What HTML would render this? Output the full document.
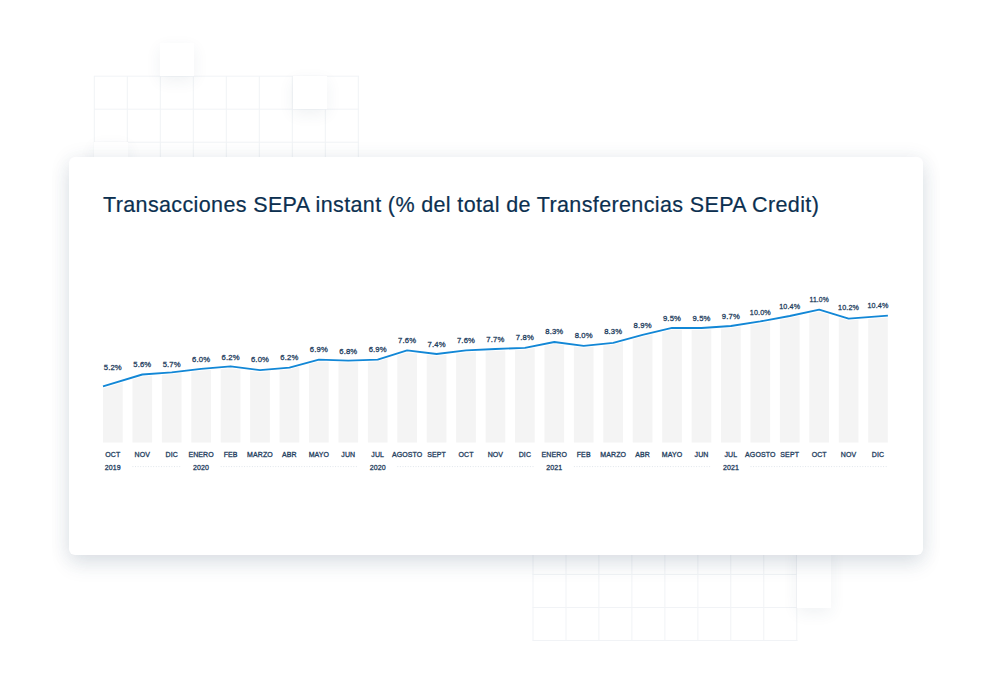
<!DOCTYPE html>
<html><head><meta charset="utf-8">
<style>
html,body{margin:0;padding:0;background:#fff;}
body{width:992px;height:698px;position:relative;overflow:hidden;font-family:"Liberation Sans",sans-serif;}
.grid{position:absolute;}
.sq{position:absolute;width:34px;height:33px;background:#fff;box-shadow:0 5px 16px rgba(40,70,100,0.07);}
.card{position:absolute;left:69px;top:157px;width:854px;height:398px;background:#fff;border-radius:6px;box-shadow:0 10px 20px rgba(35,65,95,0.10),0 2px 20px rgba(35,65,95,0.10);}
.title{position:absolute;left:103px;top:191px;font-size:21.5px;color:#0c3050;-webkit-text-stroke:0.2px #0c3050;white-space:nowrap;line-height:28px;letter-spacing:0.37px;}
svg.chart{position:absolute;left:0;top:0;}
.vl text{font-size:8px;letter-spacing:0.15px;fill:#1f4060;stroke:#1f4060;stroke-width:0.3px;text-anchor:middle;}
.ml text{font-size:7px;letter-spacing:0.1px;fill:#1f4060;stroke:#1f4060;stroke-width:0.3px;text-anchor:middle;}
</style></head><body>
<svg class="grid" style="left:0;top:0" width="992" height="698">
<g stroke="#f1f3f6" stroke-width="1" fill="none">
<line x1="94.3" y1="76" x2="94.3" y2="180"/><line x1="127.3" y1="76" x2="127.3" y2="180"/><line x1="160.3" y1="76" x2="160.3" y2="180"/><line x1="193.3" y1="76" x2="193.3" y2="180"/><line x1="226.3" y1="76" x2="226.3" y2="180"/><line x1="259.3" y1="76" x2="259.3" y2="180"/><line x1="292.3" y1="76" x2="292.3" y2="180"/><line x1="325.3" y1="76" x2="325.3" y2="180"/><line x1="358.3" y1="76" x2="358.3" y2="180"/>
<line x1="94" y1="76.2" x2="359" y2="76.2"/><line x1="94" y1="109.2" x2="359" y2="109.2"/><line x1="94" y1="142.2" x2="359" y2="142.2"/>
<line x1="533.0" y1="540" x2="533.0" y2="640.5"/><line x1="566.0" y1="540" x2="566.0" y2="640.5"/><line x1="598.9" y1="540" x2="598.9" y2="640.5"/><line x1="631.9" y1="540" x2="631.9" y2="640.5"/><line x1="664.9" y1="540" x2="664.9" y2="640.5"/><line x1="697.9" y1="540" x2="697.9" y2="640.5"/><line x1="730.8" y1="540" x2="730.8" y2="640.5"/><line x1="763.8" y1="540" x2="763.8" y2="640.5"/><line x1="796.8" y1="540" x2="796.8" y2="640.5"/>
<line x1="532.5" y1="574.5" x2="797.5" y2="574.5"/><line x1="532.5" y1="607.5" x2="797.5" y2="607.5"/><line x1="532.5" y1="640.5" x2="797.5" y2="640.5"/>
</g></svg>
<div class="sq" style="left:160px;top:43px"></div>
<div class="sq" style="left:292.5px;top:76px"></div>
<div class="sq" style="left:94px;top:142px"></div>
<div class="sq" style="left:797px;top:542px;height:66px"></div>
<div class="card"></div>
<div class="title">Transacciones SEPA instant (% del total de Transferencias SEPA Credit)</div>
<svg class="chart" width="992" height="698" viewBox="0 0 992 698">
<defs><clipPath id="bars"><rect x="103.00" y="290" width="19.7" height="152.7"/><rect x="132.43" y="290" width="19.7" height="152.7"/><rect x="161.86" y="290" width="19.7" height="152.7"/><rect x="191.29" y="290" width="19.7" height="152.7"/><rect x="220.72" y="290" width="19.7" height="152.7"/><rect x="250.15" y="290" width="19.7" height="152.7"/><rect x="279.58" y="290" width="19.7" height="152.7"/><rect x="309.01" y="290" width="19.7" height="152.7"/><rect x="338.44" y="290" width="19.7" height="152.7"/><rect x="367.87" y="290" width="19.7" height="152.7"/><rect x="397.30" y="290" width="19.7" height="152.7"/><rect x="426.73" y="290" width="19.7" height="152.7"/><rect x="456.16" y="290" width="19.7" height="152.7"/><rect x="485.59" y="290" width="19.7" height="152.7"/><rect x="515.02" y="290" width="19.7" height="152.7"/><rect x="544.45" y="290" width="19.7" height="152.7"/><rect x="573.88" y="290" width="19.7" height="152.7"/><rect x="603.31" y="290" width="19.7" height="152.7"/><rect x="632.74" y="290" width="19.7" height="152.7"/><rect x="662.17" y="290" width="19.7" height="152.7"/><rect x="691.60" y="290" width="19.7" height="152.7"/><rect x="721.03" y="290" width="19.7" height="152.7"/><rect x="750.46" y="290" width="19.7" height="152.7"/><rect x="779.89" y="290" width="19.7" height="152.7"/><rect x="809.32" y="290" width="19.7" height="152.7"/><rect x="838.75" y="290" width="19.7" height="152.7"/><rect x="868.18" y="290" width="19.7" height="152.7"/></clipPath></defs>
<polygon points="103.0,388.4 142.3,376.5 171.7,374.3 201.1,370.8 230.6,368.3 260.0,372.2 289.4,369.6 318.9,361.6 348.3,362.6 377.7,361.6 407.1,352.4 436.6,356.0 466.0,352.4 495.4,351.0 524.9,349.8 554.3,344.0 583.7,347.8 613.2,344.8 642.6,336.8 672.0,329.8 701.5,330.0 730.9,328.0 760.3,323.4 789.7,318.0 819.2,311.7 848.6,320.6 887.9,317.6 887.9,442.7 103.0,442.7" fill="#f4f4f4" clip-path="url(#bars)"/>
<polyline points="103.0,386.4 142.3,374.5 171.7,372.3 201.1,368.8 230.6,366.3 260.0,370.2 289.4,367.6 318.9,359.6 348.3,360.6 377.7,359.6 407.1,350.4 436.6,354.0 466.0,350.4 495.4,349.0 524.9,347.8 554.3,342.0 583.7,345.8 613.2,342.8 642.6,334.8 672.0,327.8 701.5,328.0 730.9,326.0 760.3,321.4 789.7,316.0 819.2,309.7 848.6,318.6 887.9,315.6" fill="none" stroke="#1287d6" stroke-width="1.85" stroke-linejoin="round"/>
<g class="vl"><text x="112.8" y="370.4" textLength="18.1" lengthAdjust="spacingAndGlyphs">5.2%</text><text x="142.3" y="367.1" textLength="18.1" lengthAdjust="spacingAndGlyphs">5.6%</text><text x="171.7" y="366.6" textLength="18.1" lengthAdjust="spacingAndGlyphs">5.7%</text><text x="201.1" y="362.2" textLength="18.1" lengthAdjust="spacingAndGlyphs">6.0%</text><text x="230.6" y="359.8" textLength="18.1" lengthAdjust="spacingAndGlyphs">6.2%</text><text x="260.0" y="362.1" textLength="18.1" lengthAdjust="spacingAndGlyphs">6.0%</text><text x="289.4" y="359.7" textLength="18.1" lengthAdjust="spacingAndGlyphs">6.2%</text><text x="318.9" y="351.9" textLength="18.1" lengthAdjust="spacingAndGlyphs">6.9%</text><text x="348.3" y="353.7" textLength="18.1" lengthAdjust="spacingAndGlyphs">6.8%</text><text x="377.7" y="351.9" textLength="18.1" lengthAdjust="spacingAndGlyphs">6.9%</text><text x="407.1" y="343.1" textLength="18.1" lengthAdjust="spacingAndGlyphs">7.6%</text><text x="436.6" y="346.5" textLength="18.1" lengthAdjust="spacingAndGlyphs">7.4%</text><text x="466.0" y="343.1" textLength="18.1" lengthAdjust="spacingAndGlyphs">7.6%</text><text x="495.4" y="342.3" textLength="18.1" lengthAdjust="spacingAndGlyphs">7.7%</text><text x="524.9" y="339.7" textLength="18.1" lengthAdjust="spacingAndGlyphs">7.8%</text><text x="554.3" y="333.7" textLength="18.1" lengthAdjust="spacingAndGlyphs">8.3%</text><text x="583.7" y="337.9" textLength="18.1" lengthAdjust="spacingAndGlyphs">8.0%</text><text x="613.2" y="333.7" textLength="18.1" lengthAdjust="spacingAndGlyphs">8.3%</text><text x="642.6" y="328.3" textLength="18.1" lengthAdjust="spacingAndGlyphs">8.9%</text><text x="672.0" y="320.5" textLength="18.1" lengthAdjust="spacingAndGlyphs">9.5%</text><text x="701.5" y="320.5" textLength="18.1" lengthAdjust="spacingAndGlyphs">9.5%</text><text x="730.9" y="318.5" textLength="18.1" lengthAdjust="spacingAndGlyphs">9.7%</text><text x="760.3" y="314.5" textLength="21.0" lengthAdjust="spacingAndGlyphs">10.0%</text><text x="789.7" y="308.7" textLength="21.0" lengthAdjust="spacingAndGlyphs">10.4%</text><text x="819.2" y="302.0" textLength="19.4" lengthAdjust="spacingAndGlyphs">11.0%</text><text x="848.6" y="309.8" textLength="21.0" lengthAdjust="spacingAndGlyphs">10.2%</text><text x="878.0" y="308.2" textLength="21.0" lengthAdjust="spacingAndGlyphs">10.4%</text></g>
<g class="ml"><text x="112.8" y="457.3">OCT</text><text x="142.3" y="457.3">NOV</text><text x="171.7" y="457.3">DIC</text><text x="201.1" y="457.3">ENERO</text><text x="230.6" y="457.3">FEB</text><text x="260.0" y="457.3">MARZO</text><text x="289.4" y="457.3">ABR</text><text x="318.9" y="457.3">MAYO</text><text x="348.3" y="457.3">JUN</text><text x="377.7" y="457.3">JUL</text><text x="407.1" y="457.3">AGOSTO</text><text x="436.6" y="457.3">SEPT</text><text x="466.0" y="457.3">OCT</text><text x="495.4" y="457.3">NOV</text><text x="524.9" y="457.3">DIC</text><text x="554.3" y="457.3">ENERO</text><text x="583.7" y="457.3">FEB</text><text x="613.2" y="457.3">MARZO</text><text x="642.6" y="457.3">ABR</text><text x="672.0" y="457.3">MAYO</text><text x="701.5" y="457.3">JUN</text><text x="730.9" y="457.3">JUL</text><text x="760.3" y="457.3">AGOSTO</text><text x="789.7" y="457.3">SEPT</text><text x="819.2" y="457.3">OCT</text><text x="848.6" y="457.3">NOV</text><text x="878.0" y="457.3">DIC</text><text x="112.8" y="469.6">2019</text><text x="201.1" y="469.6">2020</text><text x="377.7" y="469.6">2020</text><text x="554.3" y="469.6">2021</text><text x="730.9" y="469.6">2021</text></g>
<g stroke="#e0e5ea" stroke-width="1" stroke-dasharray="1 1.6"><line x1="132.4" y1="466.6" x2="181.6" y2="466.6"/><line x1="220.7" y1="466.6" x2="358.1" y2="466.6"/><line x1="397.3" y1="466.6" x2="534.7" y2="466.6"/><line x1="573.9" y1="466.6" x2="711.3" y2="466.6"/><line x1="750.5" y1="466.6" x2="887.9" y2="466.6"/></g>
</svg>
</body></html>
